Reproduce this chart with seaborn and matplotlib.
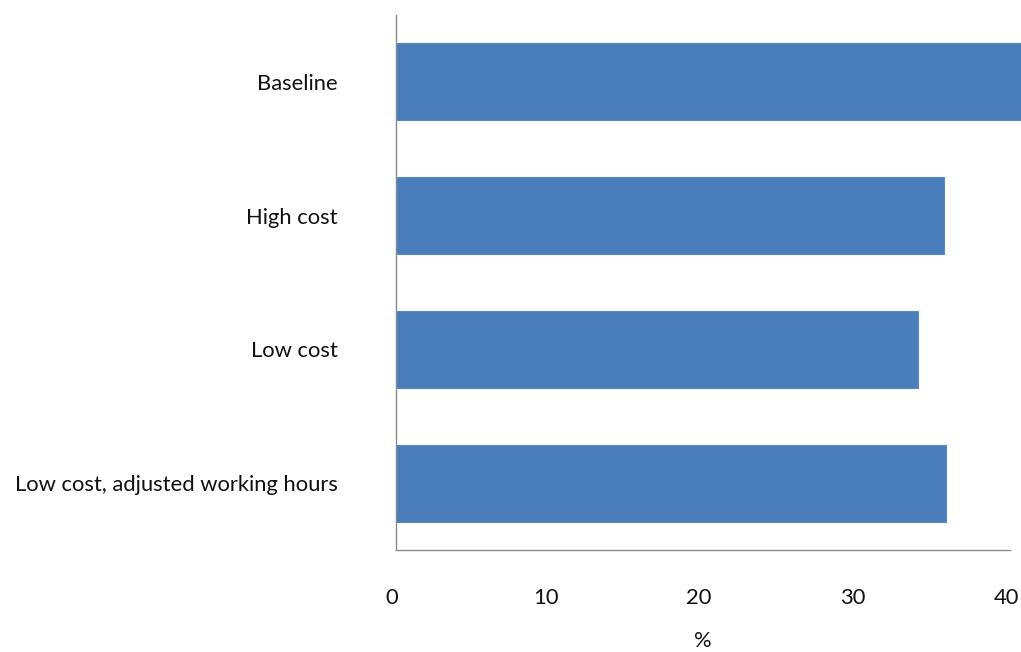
import matplotlib
matplotlib.use("Agg")
import matplotlib.pyplot as plt
import matplotlib.transforms as mtransforms
import seaborn as sns
import pandas as pd

scenarios = ["Baseline", "High cost", "Low cost", "Low cost, adjusted working hours"]
shares = [42.0, 35.7, 34.0, 35.8]
x_ticks = [0, 10, 20, 30, 40]

sns.set_style("white")
plt.rcParams["font.family"] = ["Lato", "DejaVu Sans"]

df = pd.DataFrame({"scenario": scenarios, "share": shares})

fig = plt.figure(figsize=(10.21, 6.52), dpi=100)
ax = fig.add_axes([396 / 1021, (652 - 550) / 652, (1010 - 396) / 1021, (550 - 15) / 652])

sns.barplot(data=df, x="share", y="scenario", orient="h", color="#4A7EBB",
            saturation=1, width=0.575, edgecolor="#5A8AC4", linewidth=0.8, ax=ax)
for p in ax.patches:
    p.set_clip_on(False)

ax.set_xlim(0, 40)
ax.set_ylim(3.5, -0.5)
ax.set_xticks(x_ticks)
ax.set_xticklabels([str(t) for t in x_ticks])
ax.tick_params(axis="x", length=0, pad=27, labelsize=15.8, colors="#111111")
ax.tick_params(axis="y", length=0, pad=42, labelsize=15.8, colors="#111111")
ax.set_xlabel("%", fontsize=15.8, labelpad=17, color="#111111")
ax.set_ylabel("")

# nudge the value labels slightly left so the last one stays inside the canvas
shift = mtransforms.ScaledTranslation(-4 / 100, 0, fig.dpi_scale_trans)
for lbl in ax.get_xticklabels():
    lbl.set_transform(lbl.get_transform() + shift)

for side in ["top", "right"]:
    ax.spines[side].set_visible(False)
for side in ["left", "bottom"]:
    ax.spines[side].set_color("#8C8C8C")
    ax.spines[side].set_linewidth(1.0)

fig.savefig("out.png", dpi=100)
